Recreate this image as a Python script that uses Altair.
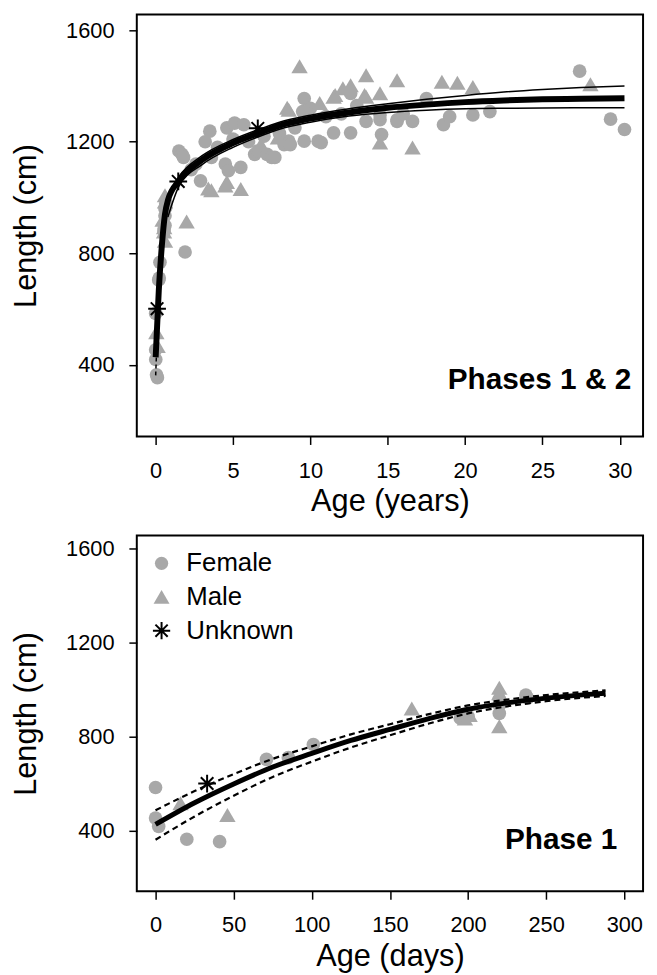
import altair as alt
import pandas as pd

# ---------------- data ----------------
SEXES = ["Female", "Male", "Unknown"]

# Phase 1 observations (age in days, length in cm)
p1_days = [0, 0, 2, 20, 41, 71, 85, 101, 195, 200, 220, 220, 220, 237, 238,
           16, 46, 164, 198, 201, 220, 220, 220,
           33]
p1_len = [585, 455, 420, 365, 355, 705, 712, 768, 880, 888, 960, 935, 900, 978, 965,
          517, 468, 920, 878, 893, 1008, 985, 845,
          602]
p1_sex = ["Female"] * 15 + ["Male"] * 8 + ["Unknown"]

# Phase 2 observations (age in years, length in cm)
p2_age = [1.5, 1.7, 1.8, 2.6, 1.9, 3.5, 3.6, 4.5, 4.7, 4.6, 5.1, 5.5, 5.7, 6.4, 6.6,
          7.2, 7.5, 7.7, 8.3, 8.6, 8.7, 9.5, 9.6, 9.6, 10.5, 10.7, 11.5, 12.6, 12.6,
          13.6, 14.5, 14.5, 14.6, 15.6, 15.6, 16.6, 17.5, 18.6, 20.5, 21.6, 27.4,
          29.4, 30.3, 3.2, 4.0, 5.0, 6.0, 7.0, 8.0, 9.0, 10.0, 11.0, 12.0, 13.0,
          16.0, 19.0, 2.3, 2.9,
          2.0, 3.4, 4.5, 4.6, 5.5, 3.6, 8.5, 8.6, 9.3, 10.6, 11.5, 11.6, 12.1, 12.6,
          13.5, 13.6, 13.6, 14.5, 14.5, 15.6, 16.6, 18.5, 19.5, 20.5, 28.1, 6.8,
          7.9, 9.9,
          1.46, 6.6]
p2_len = [1167, 1155, 1144, 1120, 805, 1238, 1144, 1120, 1096, 1250, 1267, 1108,
          1261, 1155, 1167, 1155, 1144, 1144, 1190, 1202, 1190, 1308, 1355, 1202,
          1202, 1197, 1232, 1232, 1373, 1273, 1279, 1296, 1226, 1273, 1279, 1273,
          1355, 1261, 1296, 1308, 1453, 1281, 1244, 1200, 1180, 1210, 1200, 1220,
          1230, 1250, 1320, 1290, 1300, 1330, 1300, 1290, 1100, 1060,
          914, 1032, 1043, 1055, 1030, 1026, 1321, 1314, 1470, 1338, 1361, 1367,
          1391, 1402, 1367, 1438, 1361, 1373, 1197, 1420, 1179, 1414, 1411, 1396,
          1405, 1190, 1215, 1300,
          1058, 1248]
p2_sex = ["Female"] * 58 + ["Male"] * 28 + ["Unknown"] * 2

# Phase 1 fitted curve and confidence band (days)
fit1_days = [0, 25, 50, 75, 100, 125, 150, 175, 200, 225, 250, 275, 288]
fit1_mean = [428, 520, 600, 672, 730, 785, 832, 878, 918, 945, 965, 980, 986]
fit1_upper = [488, 570, 642, 707, 760, 811, 854, 897, 934, 959, 978, 992, 998]
fit1_lower = [363, 462, 550, 630, 695, 755, 807, 857, 900, 930, 952, 968, 974]

# Phases 1 & 2 fitted curve (years)
fit2_age = [0, 0.2, 0.4, 0.6, 0.79, 1.5, 3, 5, 6.6, 8, 10, 12.5, 15, 17.5, 20,
            22.5, 25, 27.5, 30.3]
fit2_mean = [428, 666, 828, 940, 990, 1060, 1135, 1195, 1230, 1258, 1283, 1305,
             1322, 1333, 1342, 1348, 1352, 1354, 1356]
band2_age = [0.79, 1.5, 3, 5, 6.6, 8, 10, 12.5, 15, 17.5, 20, 22.5, 25, 27.5, 30.3]
band2_upper = [1005, 1075, 1150, 1208, 1243, 1270, 1295, 1318, 1336, 1352, 1366,
               1378, 1387, 1394, 1400]
band2_lower = [930, 1040, 1118, 1180, 1217, 1245, 1270, 1292, 1305, 1313, 1318,
               1320, 1321, 1322, 1322]

Y_TICKS = [400, 800, 1200, 1600]
X_TICKS_YEARS = [0, 5, 10, 15, 20, 25, 30]
X_TICKS_DAYS = [0, 50, 100, 150, 200, 250, 300]

# ---------------- build tables ----------------
DAYS_PER_YEAR = 365.25
top_pts = pd.DataFrame({
    "x": [d / DAYS_PER_YEAR for d in p1_days] + p2_age,
    "y": p1_len + p2_len,
    "sex": p1_sex + p2_sex,
})
bot_pts = pd.DataFrame({"x": p1_days, "y": p1_len, "sex": p1_sex})

top_mean = pd.DataFrame({"x": fit2_age, "y": fit2_mean})
top_band = pd.DataFrame({
    "x": band2_age + band2_age,
    "y": band2_upper + band2_lower,
    "s": ["u"] * len(band2_age) + ["l"] * len(band2_age),
})
top_dash = pd.DataFrame({
    "x": [d / DAYS_PER_YEAR for d in fit1_days] * 2,
    "y": fit1_upper + fit1_lower,
    "s": ["u"] * len(fit1_days) + ["l"] * len(fit1_days),
})
bot_mean = pd.DataFrame({"x": fit1_days, "y": fit1_mean})
bot_dash = pd.DataFrame({
    "x": fit1_days * 2,
    "y": fit1_upper + fit1_lower,
    "s": ["u"] * len(fit1_days) + ["l"] * len(fit1_days),
})

GRAY = "#a8a8a8"
CIRCLE = "circle"
TRI = "M0,-1.05L1.2,1L-1.2,1Z"
AST = "M-1.3,0L1.3,0M0,-1.3L0,1.3M-0.92,-0.92L0.92,0.92M-0.92,0.92L0.92,-0.92"

FONT = "Liberation Sans"
W = 511


def points(df, xscale, xticks, xtitle, legend):
    leg = legend
    x = alt.X("x:Q", scale=xscale, title=xtitle,
              axis=alt.Axis(values=xticks, labelPadding=16, titlePadding=6))
    y = alt.Y("y:Q", scale=alt.Scale(domain=[144, 1656], nice=False, zero=False),
              title="Length (cm)",
              axis=alt.Axis(values=Y_TICKS, format="d", labelPadding=15, titlePadding=23))
    enc = dict(
        shape=alt.Shape("sex:N", scale=alt.Scale(domain=SEXES, range=[CIRCLE, TRI, AST]),
                        legend=leg),
        fill=alt.Fill("sex:N", scale=alt.Scale(domain=SEXES, range=[GRAY, GRAY, "transparent"]),
                      legend=leg),
        stroke=alt.Stroke("sex:N", scale=alt.Scale(domain=SEXES,
                                                   range=["transparent", "transparent", "black"]),
                          legend=leg),
    )
    return alt.Chart(df).mark_point(size=190, opacity=1, strokeWidth=2).encode(x=x, y=y, **enc)


legend_bottom = alt.Legend(orient="none", legendX=12, legendY=15, title=None,
                           labelFontSize=26, labelFont=FONT, labelColor="black",
                           symbolSize=180, symbolStrokeWidth=2, padding=0,
                           rowPadding=8, labelOffset=12)

# ---------------- top panel ----------------
top_scale = alt.Scale(domain=[-1.22, 31.5], nice=False, zero=False)
tp = points(top_pts, top_scale, X_TICKS_YEARS, "Age (years)", None)
t_band = alt.Chart(top_band).mark_line(color="black", strokeWidth=1.5,
                                       interpolate="monotone").encode(
    x="x:Q", y="y:Q", detail="s:N")
t_dash = alt.Chart(top_dash).mark_line(color="black", strokeWidth=1.5,
                                       strokeDash=[4, 3], interpolate="monotone").encode(
    x="x:Q", y="y:Q", detail="s:N")
t_mean = alt.Chart(top_mean).mark_line(color="black", strokeWidth=6,
                                       interpolate="monotone").encode(x="x:Q", y="y:Q")
t_text = alt.Chart(pd.DataFrame({"t": ["Phases 1 & 2"]})).mark_text(
    align="right", baseline="alphabetic", fontSize=30, fontWeight="bold",
    font=FONT, color="black").encode(text="t:N", x=alt.value(499), y=alt.value(378))
top = alt.layer(tp, t_band, t_dash, t_mean, t_text).properties(width=W, height=426)

# ---------------- bottom panel ----------------
bot_scale = alt.Scale(domain=[-12, 312], nice=False, zero=False)
bp = points(bot_pts, bot_scale, X_TICKS_DAYS, "Age (days)", legend_bottom)
b_dash = alt.Chart(bot_dash).mark_line(color="black", strokeWidth=2.2,
                                       strokeDash=[6, 4], interpolate="monotone").encode(
    x="x:Q", y="y:Q", detail="s:N")
b_mean = alt.Chart(bot_mean).mark_line(color="black", strokeWidth=5,
                                       interpolate="monotone").encode(x="x:Q", y="y:Q")
b_text = alt.Chart(pd.DataFrame({"t": ["Phase 1"]})).mark_text(
    align="right", baseline="alphabetic", fontSize=30, fontWeight="bold",
    font=FONT, color="black").encode(text="t:N", x=alt.value(485), y=alt.value(316))
bottom = alt.layer(bp, b_dash, b_mean, b_text).properties(width=W, height=359)

chart = alt.vconcat(top, bottom, spacing=17).resolve_scale(
    x="independent", y="independent", shape="independent",
    fill="independent", stroke="independent",
).properties(
    padding={"left": 2, "top": 1, "right": 5, "bottom": 0}
).configure(font=FONT).configure_view(
    stroke="black", strokeWidth=2
).configure_axis(
    domain=False, grid=False, tickColor="black", tickWidth=1.5, tickSize=8,
    labelFontSize=22, labelColor="black", labelFont=FONT,
    titleFontSize=31, titleFontWeight="normal", titleColor="black", titleFont=FONT,
)

chart.save("out.html", embed_options={"renderer": "svg", "actions": False})
